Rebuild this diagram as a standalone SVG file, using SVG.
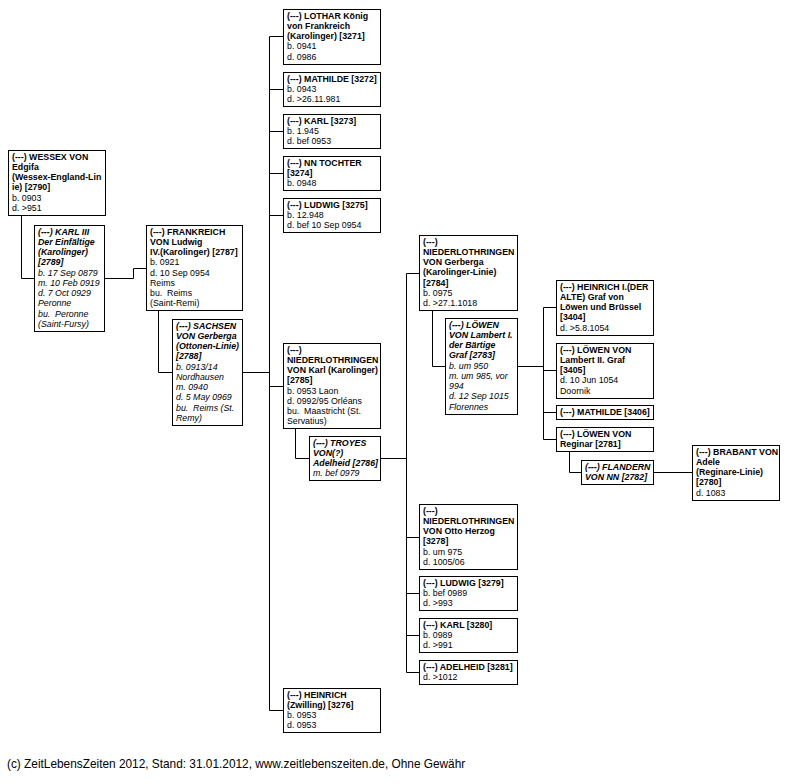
<svg xmlns="http://www.w3.org/2000/svg" width="793" height="784" viewBox="0 0 793 784">
<style>
.box{fill:#fff;stroke:#000;stroke-width:1}
text{font-family:"Liberation Sans",Arial,sans-serif;font-size:8.8px;fill:#000}
.b{font-weight:bold}
.i{font-style:italic}
.con{fill:none;stroke:#000;stroke-width:1}
.foot{font-size:11.85px}
</style>
<rect x="0" y="0" width="793" height="784" fill="#fff"/>
<g id="connectors">
<path class="con" d="M21.5,215.5 V278.5 H34.5"/>
<path class="con" d="M104.5,278.5 H133.5 V268.5 H146.5"/>
<path class="con" d="M158.5,310.5 V372.5 H172.5"/>
<path class="con" d="M242.5,372.5 H269.5"/>
<path class="con" d="M269.5,36.5 V710.5"/>
<path class="con" d="M269.5,36.5 H283.5 M269.5,89.5 H283.5 M269.5,131.5 H283.5 M269.5,173.5 H283.5 M269.5,215.5 H283.5 M269.5,386.5 H283.5 M269.5,710.5 H283.5"/>
<path class="con" d="M295.5,428.5 V458.5 H309.5"/>
<path class="con" d="M380.5,458.5 H406.5"/>
<path class="con" d="M406.5,273.5 V672.5"/>
<path class="con" d="M406.5,273.5 H419.5 M406.5,537.5 H419.5 M406.5,593.5 H419.5 M406.5,635.5 H419.5 M406.5,672.5 H419.5"/>
<path class="con" d="M432.5,310.5 V366.5 H445.5"/>
<path class="con" d="M517.5,366.5 H543.5"/>
<path class="con" d="M543.5,307.5 V439.5"/>
<path class="con" d="M543.5,307.5 H556.5 M543.5,370.5 H556.5 M543.5,412.5 H556.5 M543.5,439.5 H556.5"/>
<path class="con" d="M569.5,451.5 V472.5 H581.5"/>
<path class="con" d="M653.5,472.5 H692.5"/>
</g>

<g id="n2790">
<rect class="box" x="8.5" y="150.5" width="97" height="65"/>
<text x="12" y="159.5"><tspan class="b">(---) WESSEX VON</tspan><tspan class="b" x="12" dy="10.25">Edgifa</tspan><tspan class="b" x="12" dy="10.25">(Wessex-England-Lin</tspan><tspan class="b" x="12" dy="10.25">ie) [2790]</tspan><tspan x="12" dy="10.25">b. 0903</tspan><tspan x="12" dy="10.25">d. &gt;951</tspan></text>
</g>

<g id="n2789">
<rect class="box" x="34.5" y="225.5" width="70" height="106"/>
<text class="i" x="38" y="234.5"><tspan class="b">(---) KARL III</tspan><tspan class="b" x="38" dy="10.25">Der Einfältige</tspan><tspan class="b" x="38" dy="10.25">(Karolinger)</tspan><tspan class="b" x="38" dy="10.25">[2789]</tspan><tspan x="38" dy="10.25">b. 17 Sep 0879</tspan><tspan x="38" dy="10.25">m. 10 Feb 0919</tspan><tspan x="38" dy="10.25">d. 7 Oct 0929</tspan><tspan x="38" dy="10.25">Peronne</tspan><tspan x="38" dy="10.25">bu.&#160; Peronne</tspan><tspan x="38" dy="10.25">(Saint-Fursy)</tspan></text>
</g>

<g id="n2787">
<rect class="box" x="146.5" y="225.5" width="96" height="85"/>
<text x="150" y="234.5"><tspan class="b">(---) FRANKREICH</tspan><tspan class="b" x="150" dy="10.25">VON Ludwig</tspan><tspan class="b" x="150" dy="10.25">IV.(Karolinger) [2787]</tspan><tspan x="150" dy="10.25">b. 0921</tspan><tspan x="150" dy="10.25">d. 10 Sep 0954</tspan><tspan x="150" dy="10.25">Reims</tspan><tspan x="150" dy="10.25">bu.&#160; Reims</tspan><tspan x="150" dy="10.25">(Saint-Remi)</tspan></text>
</g>

<g id="n2788">
<rect class="box" x="172.5" y="319.5" width="70" height="106"/>
<text class="i" x="176" y="328.5"><tspan class="b">(---) SACHSEN</tspan><tspan class="b" x="176" dy="10.25">VON Gerberga</tspan><tspan class="b" x="176" dy="10.25">(Ottonen-Linie)</tspan><tspan class="b" x="176" dy="10.25">[2788]</tspan><tspan x="176" dy="10.25">b. 0913/14</tspan><tspan x="176" dy="10.25">Nordhausen</tspan><tspan x="176" dy="10.25">m. 0940</tspan><tspan x="176" dy="10.25">d. 5 May 0969</tspan><tspan x="176" dy="10.25">bu.&#160; Reims (St.</tspan><tspan x="176" dy="10.25">Remy)</tspan></text>
</g>

<g id="n3271">
<rect class="box" x="283.5" y="9.5" width="97" height="55"/>
<text x="287" y="18.5"><tspan class="b">(---) LOTHAR König</tspan><tspan class="b" x="287" dy="10.25">von Frankreich</tspan><tspan class="b" x="287" dy="10.25">(Karolinger) [3271]</tspan><tspan x="287" dy="10.25">b. 0941</tspan><tspan x="287" dy="10.25">d. 0986</tspan></text>
</g>

<g id="n3272">
<rect class="box" x="283.5" y="72.5" width="97" height="34"/>
<text x="287" y="81.5"><tspan class="b">(---) MATHILDE [3272]</tspan><tspan x="287" dy="10.25">b. 0943</tspan><tspan x="287" dy="10.25">d. &gt;26.11.981</tspan></text>
</g>

<g id="n3273">
<rect class="box" x="283.5" y="114.5" width="97" height="34"/>
<text x="287" y="123.5"><tspan class="b">(---) KARL [3273]</tspan><tspan x="287" dy="10.25">b. 1.945</tspan><tspan x="287" dy="10.25">d. bef 0953</tspan></text>
</g>

<g id="n3274">
<rect class="box" x="283.5" y="156.5" width="97" height="34"/>
<text x="287" y="165.5"><tspan class="b">(---) NN TOCHTER</tspan><tspan class="b" x="287" dy="10.25">[3274]</tspan><tspan x="287" dy="10.25">b. 0948</tspan></text>
</g>

<g id="n3275">
<rect class="box" x="283.5" y="198.5" width="97" height="34"/>
<text x="287" y="207.5"><tspan class="b">(---) LUDWIG [3275]</tspan><tspan x="287" dy="10.25">b. 12.948</tspan><tspan x="287" dy="10.25">d. bef 10 Sep 0954</tspan></text>
</g>

<g id="n2785">
<rect class="box" x="283.5" y="343.5" width="97" height="85"/>
<text x="287" y="352.5"><tspan class="b">(---)</tspan><tspan class="b" x="287" dy="10.25">NIEDERLOTHRINGEN</tspan><tspan class="b" x="287" dy="10.25">VON Karl (Karolinger)</tspan><tspan class="b" x="287" dy="10.25">[2785]</tspan><tspan x="287" dy="10.25">b. 0953 Laon</tspan><tspan x="287" dy="10.25">d. 0992/95 Orléans</tspan><tspan x="287" dy="10.25">bu.&#160; Maastricht (St.</tspan><tspan x="287" dy="10.25">Servatius)</tspan></text>
</g>

<g id="n2786">
<rect class="box" x="309.5" y="436.5" width="71" height="44"/>
<text class="i" x="313" y="445.5"><tspan class="b">(---) TROYES</tspan><tspan class="b" x="313" dy="10.25">VON(?)</tspan><tspan class="b" x="313" dy="10.25">Adelheid [2786]</tspan><tspan x="313" dy="10.25">m. bef 0979</tspan></text>
</g>

<g id="n3276">
<rect class="box" x="283.5" y="688.5" width="97" height="44"/>
<text x="287" y="697.5"><tspan class="b">(---) HEINRICH</tspan><tspan class="b" x="287" dy="10.25">(Zwilling) [3276]</tspan><tspan x="287" dy="10.25">b. 0953</tspan><tspan x="287" dy="10.25">d. 0953</tspan></text>
</g>

<g id="n2784">
<rect class="box" x="419.5" y="235.5" width="98" height="75"/>
<text x="423" y="244.5"><tspan class="b">(---)</tspan><tspan class="b" x="423" dy="10.25">NIEDERLOTHRINGEN</tspan><tspan class="b" x="423" dy="10.25">VON Gerberga</tspan><tspan class="b" x="423" dy="10.25">(Karolinger-Linie)</tspan><tspan class="b" x="423" dy="10.25">[2784]</tspan><tspan x="423" dy="10.25">b. 0975</tspan><tspan x="423" dy="10.25">d. &gt;27.1.1018</tspan></text>
</g>

<g id="n2783">
<rect class="box" x="445.5" y="318.5" width="72" height="96"/>
<text class="i" x="449" y="327.5"><tspan class="b">(---) LÖWEN</tspan><tspan class="b" x="449" dy="10.25">VON Lambert I.</tspan><tspan class="b" x="449" dy="10.25">der Bärtige</tspan><tspan class="b" x="449" dy="10.25">Graf [2783]</tspan><tspan x="449" dy="10.25">b. um 950</tspan><tspan x="449" dy="10.25">m. um 985, vor</tspan><tspan x="449" dy="10.25">994</tspan><tspan x="449" dy="10.25">d. 12 Sep 1015</tspan><tspan x="449" dy="10.25">Florennes</tspan></text>
</g>

<g id="n3278">
<rect class="box" x="419.5" y="504.5" width="98" height="65"/>
<text x="423" y="513.5"><tspan class="b">(---)</tspan><tspan class="b" x="423" dy="10.25">NIEDERLOTHRINGEN</tspan><tspan class="b" x="423" dy="10.25">VON Otto Herzog</tspan><tspan class="b" x="423" dy="10.25">[3278]</tspan><tspan x="423" dy="10.25">b. um 975</tspan><tspan x="423" dy="10.25">d. 1005/06</tspan></text>
</g>

<g id="n3279">
<rect class="box" x="419.5" y="576.5" width="98" height="34"/>
<text x="423" y="585.5"><tspan class="b">(---) LUDWIG [3279]</tspan><tspan x="423" dy="10.25">b. bef 0989</tspan><tspan x="423" dy="10.25">d. &gt;993</tspan></text>
</g>

<g id="n3280">
<rect class="box" x="419.5" y="618.5" width="98" height="34"/>
<text x="423" y="627.5"><tspan class="b">(---) KARL [3280]</tspan><tspan x="423" dy="10.25">b. 0989</tspan><tspan x="423" dy="10.25">d. &gt;991</tspan></text>
</g>

<g id="n3281">
<rect class="box" x="419.5" y="660.5" width="98" height="24"/>
<text x="423" y="669.5"><tspan class="b">(---) ADELHEID [3281]</tspan><tspan x="423" dy="10.25">d. &gt;1012</tspan></text>
</g>

<g id="n3404">
<rect class="box" x="556.5" y="280.5" width="97" height="55"/>
<text x="560" y="289.5"><tspan class="b">(---) HEINRICH I.(DER</tspan><tspan class="b" x="560" dy="10.25">ALTE) Graf von</tspan><tspan class="b" x="560" dy="10.25">Löwen und Brüssel</tspan><tspan class="b" x="560" dy="10.25">[3404]</tspan><tspan x="560" dy="10.25">d. &gt;5.8.1054</tspan></text>
</g>

<g id="n3405">
<rect class="box" x="556.5" y="343.5" width="97" height="55"/>
<text x="560" y="352.5"><tspan class="b">(---) LÖWEN VON</tspan><tspan class="b" x="560" dy="10.25">Lambert II. Graf</tspan><tspan class="b" x="560" dy="10.25">[3405]</tspan><tspan x="560" dy="10.25">d. 10 Jun 1054</tspan><tspan x="560" dy="10.25">Doornik</tspan></text>
</g>

<g id="n3406">
<rect class="box" x="556.5" y="405.5" width="97" height="14"/>
<text x="560" y="414.5"><tspan class="b">(---) MATHILDE [3406]</tspan></text>
</g>

<g id="n2781">
<rect class="box" x="556.5" y="427.5" width="97" height="24"/>
<text x="560" y="436.5"><tspan class="b">(---) LÖWEN VON</tspan><tspan class="b" x="560" dy="10.25">Reginar [2781]</tspan></text>
</g>

<g id="n2782">
<rect class="box" x="581.5" y="460.5" width="72" height="24"/>
<text class="i" x="585" y="469.5"><tspan class="b">(---) FLANDERN</tspan><tspan class="b" x="585" dy="10.25">VON NN [2782]</tspan></text>
</g>

<g id="n2780">
<rect class="box" x="692.5" y="445.5" width="87" height="55"/>
<text x="696" y="454.5"><tspan class="b">(---) BRABANT VON</tspan><tspan class="b" x="696" dy="10.25">Adele</tspan><tspan class="b" x="696" dy="10.25">(Reginare-Linie)</tspan><tspan class="b" x="696" dy="10.25">[2780]</tspan><tspan x="696" dy="10.25">d. 1083</tspan></text>
</g>

<text class="foot" x="7" y="768">(c) ZeitLebensZeiten 2012, Stand: 31.01.2012, www.zeitlebenszeiten.de, Ohne Gewähr</text>
</svg>
